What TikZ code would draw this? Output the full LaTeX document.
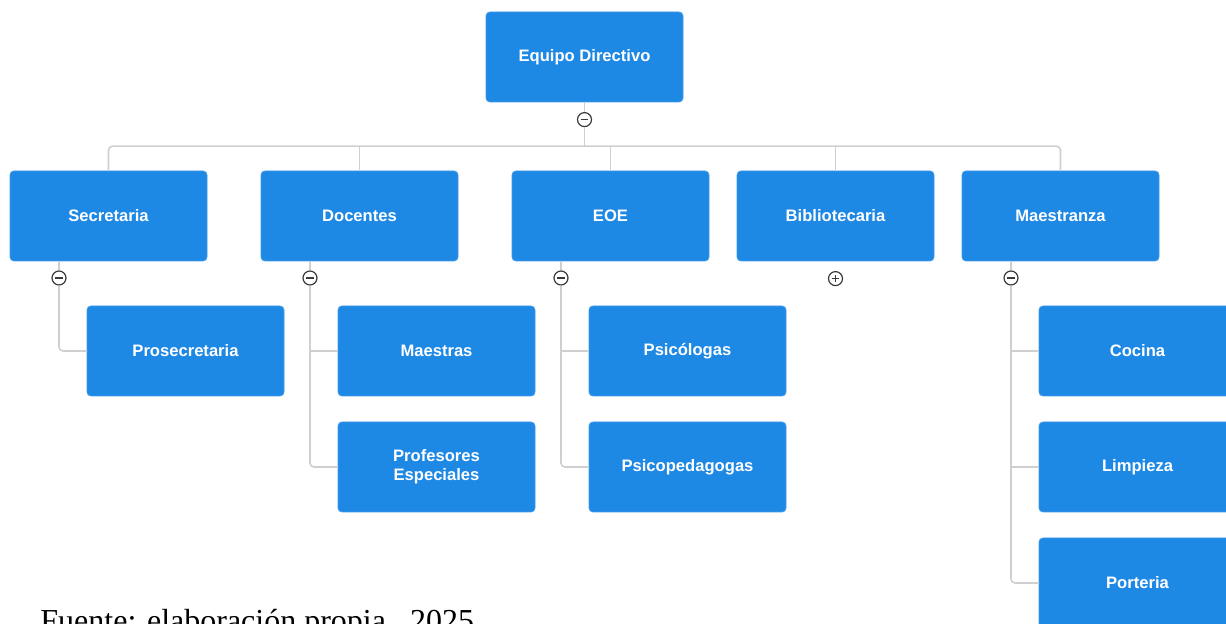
\documentclass[tikz,border=0pt]{standalone}
\usepackage{fontspec}
\setmainfont{Liberation Sans}
\newfontfamily\notefont{Liberation Serif}
\usetikzlibrary{positioning}
\usetikzlibrary{calc}

\definecolor{boxblue}{HTML}{1E88E5}
\definecolor{linegray}{HTML}{CFCFCF}
\definecolor{togglegray}{HTML}{3A3A3A}

\begin{document}
\begin{tikzpicture}[
                x = 0.5pt, y = -0.5pt,
                box/.style = {
                    draw = boxblue!85!white,
                    fill = boxblue,
                    rounded corners = 2pt,
                    minimum width = 98.5pt,
                    minimum height = 45pt,
                    inner sep = 0pt,
                    outer sep = 0pt,
                    text = white,
                    align = center,
                    font = \fontsize{8.3}{9.6}\selectfont\bfseries
                },
                link/.style = {
                    draw = linegray,
                    line width = 0.8pt,
                    rounded corners = 2pt
                },
                toggle/.style = {
                    circle,
                    draw = togglegray,
                    fill = white,
                    line width = 0.6pt,
                    minimum size = 7pt,
                    inner sep = 0pt
                },
                minus/.style = {
                    toggle,
                    path picture = {
                        \draw[togglegray, line width = 0.7pt]
                            ([xshift=-1.8pt]path picture bounding box.center) --
                            ([xshift=1.8pt]path picture bounding box.center);
                    }
                },
                plus/.style = {
                    toggle,
                    path picture = {
                        \draw[togglegray, line width = 0.7pt]
                            ([xshift=-1.8pt]path picture bounding box.center) --
                            ([xshift=1.8pt]path picture bounding box.center)
                            ([yshift=-1.8pt]path picture bounding box.center) --
                            ([yshift=1.8pt]path picture bounding box.center);
                    }
                }
            ]
            \useasboundingbox (0,0) rectangle (1226,624);
            \clip (0,0) rectangle (1226,624);
            % 
            \node[box] (dir) at (584.5,57) {Equipo Directivo};
            \node[minus, below=5pt of dir] (tDir) {};
            % 
            \node[box] (sec) at (108.5,216) {Secretaria};
            \node[box, right=27pt of sec] (doc) {Docentes};
            \node[box, right=27pt of doc] (eoe) {EOE};
            \node[box, right=14pt of eoe] (bib) {Bibliotecaria};
            \node[box, right=14pt of bib] (mae) {Maestranza};
            % 
            \node[minus] (tSec) at ($(sec.south west)+(49,17)$) {};
            \node[minus] (tDoc) at ($(doc.south west)+(49,17)$) {};
            \node[minus] (tEoe) at ($(eoe.south west)+(49,17)$) {};
            \node[plus, below=5pt of bib] (tBib) {};
            \node[minus] (tMae) at ($(mae.south west)+(49,17)$) {};
            % 
            \node[box, below=22.5pt of sec, xshift=38.5pt] (pros) {Prosecretaria};
            % 
            \node[box, below=22.5pt of doc, xshift=38.5pt] (maes) {Maestras};
            \node[box, below=13pt of maes] (prof) {Profesores\\Especiales};
            % 
            \node[box, below=22.5pt of eoe, xshift=38.5pt] (psi) {Psicólogas};
            \node[box, below=13pt of psi] (psp) {Psicopedagogas};
            % 
            \node[box, below=22.5pt of mae, xshift=38.5pt] (coc) {Cocina};
            \node[box, below=13pt of coc] (lim) {Limpieza};
            \node[box, below=13pt of lim] (por) {Porteria};
            % 
            \coordinate (bus) at ($(tDir.south)+(0,19)$);
            \draw[link] (dir) -- (tDir);
            \draw[link] (tDir) -- (bus);
            \draw[link] (sec.north) |- (bus) -| (mae.north);
            \foreach \n in {doc, eoe, bib}
                \draw[link] (\n.north) -- (\n.north |- bus);
            % 
            \draw[link] (sec.south -| tSec) -- (tSec);
            \draw[link] (tSec) |- (pros.west);
            % 
            \draw[link] (doc.south -| tDoc) -- (tDoc);
            \draw[link] (tDoc) |- (prof.west);
            \draw[link] (tDoc |- maes) -- (maes.west);
            % 
            \draw[link] (eoe.south -| tEoe) -- (tEoe);
            \draw[link] (tEoe) |- (psp.west);
            \draw[link] (tEoe |- psi) -- (psi.west);
            % 
            \draw[link] (mae.south -| tMae) -- (tMae);
            \draw[link] (tMae) |- (por.west);
            \draw[link] (tMae |- coc) -- (coc.west);
            \draw[link] (tMae |- lim) -- (lim.west);
            % 
            \node[anchor=base west, inner sep=0pt,
                  font=\notefont\fontsize{16}{19}\selectfont] (src) at (40,632)
                  {Fuente: elaboración propia., 2025};
            % 
        \end{tikzpicture}
\end{document}
